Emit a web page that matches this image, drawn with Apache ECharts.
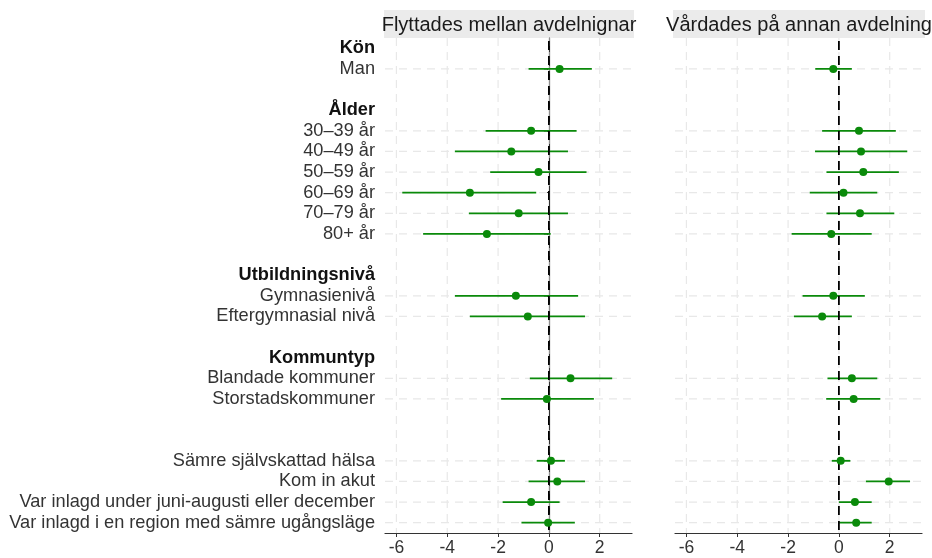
<!DOCTYPE html>
<html>
<head>
<meta charset="utf-8">
<script src="https://cdn.jsdelivr.net/npm/echarts@6/dist/echarts.min.js"></script>
<style>html,body{margin:0;padding:0;background:#fff;}#c{width:932px;height:558px;}</style>
</head>
<body>
<div id="c"></div>
<script>
// Row labels (top to bottom); '' are spacer rows
const rowLabels = ['Kön','Man','','Ålder','30–39 år','40–49 år','50–59 år','60–69 år','70–79 år','80+ år','','Utbildningsnivå','Gymnasienivå','Eftergymnasial nivå','','Kommuntyp','Blandade kommuner','Storstadskommuner','','','Sämre självskattad hälsa','Kom in akut','Var inlagd under juni-augusti eller december','Var inlagd i en region med sämre ugångsläge'];
const headerRows = ['Kön','Ålder','Utbildningsnivå','Kommuntyp'];
const variables = ['Man','30–39 år','40–49 år','50–59 år','60–69 år','70–79 år','80+ år','Gymnasienivå','Eftergymnasial nivå','Blandade kommuner','Storstadskommuner','Sämre självskattad hälsa','Kom in akut','Var inlagd under juni-augusti eller december','Var inlagd i en region med sämre ugångsläge'];
const panelTitles = ['Flyttades mellan avdelnignar','Vårdades på annan avdelning'];
const xTicks = [-6,-4,-2,0,2];

// Panel 1: Flyttades mellan avdelnignar
const est1 = [0.42,-0.70,-1.48,-0.41,-3.11,-1.19,-2.44,-1.30,-0.83,0.85,-0.08,0.08,0.33,-0.70,-0.03];
const lo1  = [-0.80,-2.49,-3.70,-2.31,-5.77,-3.15,-4.95,-3.70,-3.11,-0.75,-1.88,-0.48,-0.80,-1.82,-1.08];
const hi1  = [1.69,1.09,0.75,1.48,-0.50,0.75,0.07,1.15,1.42,2.49,1.77,0.63,1.42,0.42,1.02];
// Panel 2: Vårdades på annan avdelning
const est2 = [-0.22,0.79,0.87,0.96,0.18,0.83,-0.30,-0.22,-0.66,0.51,0.58,0.07,1.96,0.63,0.68];
const lo2  = [-0.93,-0.66,-0.94,-0.49,-1.15,-0.49,-1.86,-1.43,-1.77,-0.45,-0.50,-0.28,1.06,0.00,0.01];
const hi2  = [0.51,2.24,2.69,2.36,1.51,2.18,1.29,1.02,0.51,1.51,1.63,0.45,2.80,1.29,1.29];

const GREEN = '#0a8a0a';
const rowIdx = variables.map(v => rowLabels.indexOf(v));

const chart = echarts.init(document.getElementById('c'), null, {renderer:'canvas'});

function gridSeries(g){
  const hLines = rowIdx.map(i => ({value:[0, i]}));
  const vLines = xTicks.map(x => ({value:[x, 0]}));
  return {
    type:'custom', xAxisIndex:g, yAxisIndex:g, silent:true, z:1,
    data: hLines.concat(vLines),
    renderItem(params, api){
      const cs = params.coordSys;
      const p = api.coord([api.value(0), api.value(1)]);
      const isH = params.dataIndex < hLines.length;
      const shape = isH
        ? {x1:cs.x, y1:p[1], x2:cs.x+cs.width, y2:p[1]}
        : {x1:p[0], y1:cs.y, x2:p[0], y2:cs.y+cs.height};
      return {type:'line', shape, style:{stroke:'#e8e8e8', lineWidth:1.2, lineDash:[8,6]}};
    }
  };
}
function zeroSeries(g){
  return {
    type:'custom', xAxisIndex:g, yAxisIndex:g, silent:true, z:4,
    data:[[0,0]],
    renderItem(params, api){
      const cs = params.coordSys;
      const p = api.coord([0, 0]);
      return {type:'line', shape:{x1:p[0], y1:cs.y+3, x2:p[0], y2:cs.y+cs.height},
        style:{stroke:'#000', lineWidth:1.8, lineDash:[9,6]}};
    }
  };
}
function errSeries(g, lo, hi){
  return {
    type:'custom', xAxisIndex:g, yAxisIndex:g, silent:true, z:3,
    data: lo.map((l,i) => [l, hi[i], rowIdx[i]]),
    encode:{x:[0,1], y:2},
    renderItem(params, api){
      const a = api.coord([api.value(0), api.value(2)]);
      const b = api.coord([api.value(1), api.value(2)]);
      return {type:'line', shape:{x1:a[0], y1:a[1], x2:b[0], y2:b[1]}, style:{stroke:GREEN, lineWidth:1.8}};
    }
  };
}
function pointSeries(g, est){
  return {
    type:'scatter', xAxisIndex:g, yAxisIndex:g, z:5, symbolSize:8,
    itemStyle:{color:GREEN, opacity:1},
    data: est.map((e,i) => [e, rowIdx[i]])
  };
}

const grids = [
  {left:385, right:300, top:38, bottom:25},
  {left:675, right:10, top:38, bottom:25}
];
const FONT = '"Liberation Sans", Arial, sans-serif';
const FS = 18.2;

chart.setOption({
  animation:false,
  backgroundColor:'#fff',
  textStyle:{fontFamily:FONT},
  grid: grids,
  xAxis: [0,1].map(g => ({
    type:'value', gridIndex:g, min:-6.45, max:3.27,
    axisLine:{show:true, lineStyle:{color:'#333', width:1.2}},
    axisTick:{show:true, length:4, customValues:xTicks, lineStyle:{color:'#333'}},
    axisLabel:{customValues:xTicks, fontSize:17.5, color:'#333', fontFamily:FONT, margin:6},
    splitLine:{show:false}
  })),
  yAxis: [0,1].map(g => ({
    type:'category', gridIndex:g, inverse:true, data:rowLabels, boundaryGap:true,
    axisLine:{show:g===0, lineStyle:{color:'#333', width:1.2}},
    axisTick:{show:g===0, length:5, alignWithLabel:true, lineStyle:{color:'#333'},
      interval:(i, v) => variables.indexOf(v) >= 0},
    axisLabel:{show:g===0, interval:0, margin:10, fontSize:FS, color:'#333', fontFamily:FONT,
      formatter:(v) => headerRows.indexOf(v) >= 0 ? '{b|' + v + '}' : v,
      rich:{b:{fontWeight:'bold', color:'#111', fontSize:FS, fontFamily:FONT}}},
    splitLine:{show:false}
  })),
  graphic: [
    {type:'rect', shape:{x:384, y:10, width:250, height:28}, style:{fill:'#ebebeb'}, silent:true, z:0},
    {type:'rect', shape:{x:673, y:10, width:252, height:28}, style:{fill:'#ebebeb'}, silent:true, z:0},
    {type:'text', x:509, y:25, style:{text:panelTitles[0], font:'20px "Liberation Sans", Arial, sans-serif', fill:'#1a1a1a', textAlign:'center', textVerticalAlign:'middle'}, z:1},
    {type:'text', x:799, y:25, style:{text:panelTitles[1], font:'20px "Liberation Sans", Arial, sans-serif', fill:'#1a1a1a', textAlign:'center', textVerticalAlign:'middle'}, z:1}
  ],
  series: [
    gridSeries(0), gridSeries(1),
    errSeries(0, lo1, hi1), errSeries(1, lo2, hi2),
    zeroSeries(0), zeroSeries(1),
    pointSeries(0, est1), pointSeries(1, est2)
  ]
});
</script>
</body>
</html>
